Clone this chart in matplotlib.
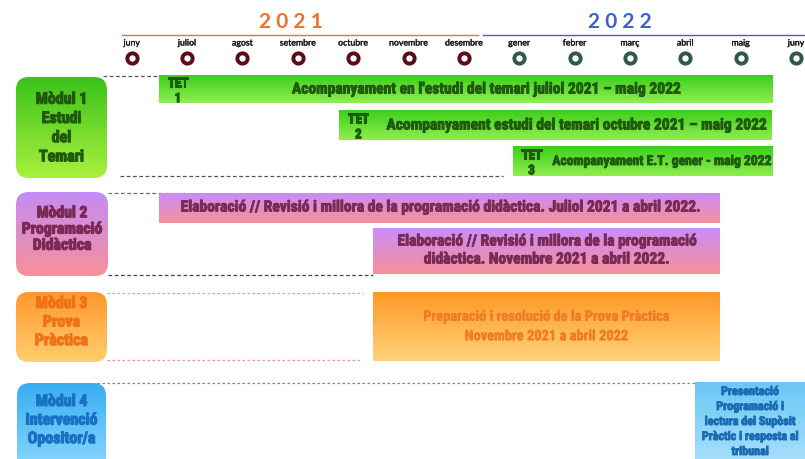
import matplotlib
matplotlib.use('Agg')
import matplotlib.pyplot as plt
import matplotlib.patheffects as pe
import numpy as np
from matplotlib.patches import FancyBboxPatch
from matplotlib import font_manager as fm
from matplotlib.colors import to_rgb

# ---------------- data ----------------
months = ['juny', 'juliol', 'agost', 'setembre', 'octubre', 'novembre', 'desembre',
          'gener', 'febrer', 'març', 'abril', 'maig', 'juny']
month_year = [2021] * 7 + [2022] * 6
years = ['2021', '2022']

module_titles = ['Mòdul 1\nEstudi\ndel\nTemari',
                 'Mòdul 2\nProgramació\nDidàctica',
                 'Mòdul 3\nProva\nPràctica',
                 'Mòdul 4\nIntervenció\nOpositor/a']

bar_tags = ['TET\n1', 'TET\n2', 'TET\n3', '', '', '', '']
bar_texts = ["Acompanyament en l'estudi del temari juliol 2021 – maig 2022",
             "Acompanyament estudi del temari octubre 2021 – maig 2022",
             "Acompanyament E.T. gener - maig 2022",
             "Elaboració // Revisió i millora de la programació didàctica. Juliol 2021 a abril 2022.",
             "Elaboració // Revisió i millora de la programació\ndidàctica. Novembre 2021 a abril 2022.",
             "Preparació i resolució de la Prova Pràctica\nNovembre 2021 a abril 2022",
             "Presentació\nProgramació i\nlectura del Supòsit\nPràctic i resposta al\ntribunal"]
bar_module = [0, 0, 0, 1, 1, 2, 3]
bar_start = [0.49, 3.75, 6.88, 0.49, 4.36, 4.36, 10.18]   # month index (0 = juny 2021)
bar_end = [11.57, 11.57, 11.57, 10.61, 10.61, 10.61, 12.3]

# ---------------- layout / style ----------------
X0, DX = 131.7, 55.36          # pixel of month 0 and pixels per month
W, H = 805, 459


def px(x):
    return (x - X0) / DX


bar_rows = [(75, 103), (110, 140), (146, 176), (193, 223), (228, 274), (292, 361), (382, 470)]
bar_fs = [11.2, 11.2, 9.8, 11.2, 11.2, 10.4, 8.7]
bar_ls = [1.2, 1.2, 1.2, 1.25, 1.25, 1.5, 1.2]
box_rows = [(77, 178), (192, 276), (292, 362), (383, 470)]
box_x = [(16, 107), (16, 108), (16, 107), (17, 106)]
box_text_y = [128, 229, 322, 420]
box_fs = [11.5, 11.3, 11.5, 11.5]
box_ls = [1.35, 1.1, 1.3, 1.3]
year_center_px = [291, 620]
year_line_px = [(122, 478), (483, 805)]

box_grad = [('#3cc21c', '#a8f03c'), ('#c48cf6', '#f7909a'),
            ('#ff982e', '#ffce6e'), ('#38aef0', '#8ad8ff')]
bar_grad = [('#3ccf1c', '#8fee4e'), ('#c98cf8', '#f7909a'),
            ('#ff9826', '#ffd27a'), ('#6cc6f4', '#ace2fc')]
box_txt = ['#1f5a0e', '#7a2a55', '#f07216', '#1a70c4']
bar_txt = ['#1f5a0e', '#7a2a55', '#f27a22', '#1a6cb4']


def pick(names):
    for n in names:
        try:
            fm.findfont(fm.FontProperties(family=n, weight='bold'), fallback_to_default=False)
            return n
        except Exception:
            pass
    return 'DejaVu Sans'


COND = pick(['Liberation Sans Narrow', 'Roboto Condensed', 'Open Sans Condensed', 'Liberation Sans'])
SANS = pick(['Lato', 'Open Sans', 'DejaVu Sans'])

fig = plt.figure(figsize=(W / 100, H / 100), dpi=100)
ax = fig.add_axes([0, 0, 1, 1])
ax.axis('off')


def grad_img(c1, c2, n=64):
    a, b = np.array(to_rgb(c1)), np.array(to_rgb(c2))
    t = np.linspace(0, 1, n)[:, None]
    g = a * (1 - t) + b * t
    return g[:, None, :]


def heavy(c, w=0.7):
    return [pe.withStroke(linewidth=w, foreground=c)]


# years header
for i, (yr, col) in enumerate(zip(years, ['#f07030', '#3f5fd0'])):
    xs, xe = year_line_px[i]
    ax.plot([px(xs), px(xe)], [34.5, 34.5], color=col, lw=1.0)
    ax.text(px(year_center_px[i]), 22.5, ' '.join(yr), ha='center', va='center', fontsize=15,
            fontweight='bold', color=col, family=SANS)

# months + markers
for k, (m, y) in enumerate(zip(months, month_year)):
    ax.text(k, 43, m, ha='center', va='center', fontsize=6.3, color='#1a1a1a', family=SANS,
            path_effects=heavy('#1a1a1a', 0.25))
    ec = '#5a0c18' if y == 2021 else '#2f5a48'
    ax.plot(k, 58, 'o', ms=7.4, mfc='white', mec=ec, mew=2.8)

# connector lines
dash_specs = [
    (103, 159, 75.5, '#555555', (0, (3, 2))),
    (120, 503, 175.5, '#555555', (0, (3, 2))),
    (108, 185, 193, '#9a5a60', (0, (3, 2))),
    (108, 373, 275, '#444466', (0, (3, 2))),
    (107, 363, 293, '#f09a86', (0, (2, 2))),
    (107, 360, 360, '#f09a86', (0, (2, 2))),
    (97, 805, 382.5, '#6a86c8', (0, (2, 2))),
]
for xa, xb, yy, c, ls in dash_specs:
    ax.plot([px(xa), px(xb)], [yy, yy], color=c, lw=0.9, ls=ls)

# module boxes
for i, title in enumerate(module_titles):
    x0, x1 = px(box_x[i][0]), px(box_x[i][1])
    y0, y1 = box_rows[i]
    r = 13
    patch = FancyBboxPatch((x0, y0), x1 - x0, y1 - y0,
                           boxstyle=f'round,pad=0,rounding_size={r / DX}',
                           mutation_aspect=DX, fc='none', ec='none')
    ax.add_patch(patch)
    im = ax.imshow(grad_img(*box_grad[i]), extent=(x0, x1, y1, y0), origin='upper',
                   aspect='auto', interpolation='bilinear', zorder=2)
    im.set_clip_path(patch)
    ax.text((x0 + x1) / 2, box_text_y[i], title, ha='center', va='center', fontsize=box_fs[i],
            fontweight='bold', color=box_txt[i], family=COND, linespacing=box_ls[i], zorder=3,
            path_effects=heavy(box_txt[i], 0.8))

# bars
for j in range(len(bar_texts)):
    mdl = bar_module[j]
    s, e = bar_start[j], bar_end[j]
    y0, y1 = bar_rows[j]
    ax.imshow(grad_img(*bar_grad[mdl]), extent=(s, e, y1, y0), origin='upper',
              aspect='auto', interpolation='bilinear', zorder=2)
    if bar_tags[j]:
        ax.text(s + 19 / DX, (y0 + y1) / 2 + 2, bar_tags[j], ha='center', va='center',
                fontsize=9.5, fontweight='bold', color=bar_txt[mdl], family=COND,
                linespacing=1.25, zorder=3, path_effects=heavy(bar_txt[mdl], 0.8))
        xc = (s + 40 / DX + e) / 2
    else:
        xc = (s + min(e, px(805))) / 2
    yc = (y0 + min(y1, 461)) / 2
    yc = yc - 1 if mdl == 1 else yc
    ax.text(xc, yc, bar_texts[j], ha='center', va='center', fontsize=bar_fs[j],
            fontweight='bold', color=bar_txt[mdl], family=COND, linespacing=bar_ls[j], zorder=3,
            path_effects=heavy(bar_txt[mdl], 0.6 if mdl != 2 else 0.2))

ax.set_xlim(px(0), px(W))
ax.set_ylim(H, 0)
fig.savefig('out.png', dpi=100)
